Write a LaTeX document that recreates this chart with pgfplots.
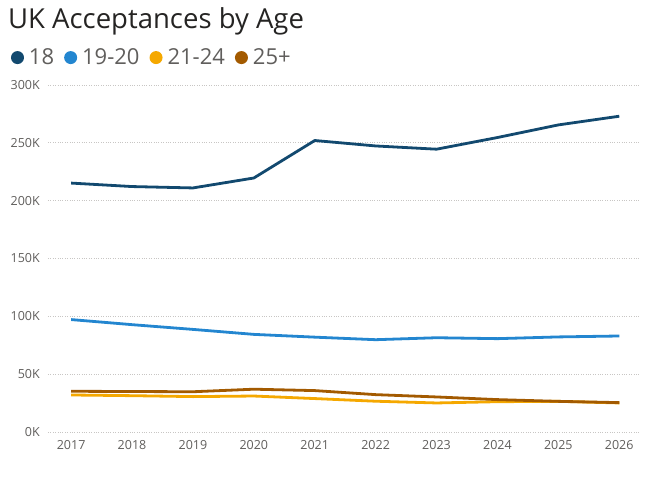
\documentclass[border=0pt]{standalone}
\usepackage{fontspec}
\setmainfont{Open Sans}
\usepackage{pgfplots}
\pgfplotsset{compat=1.18}
\definecolor{cA}{HTML}{12496F}
\definecolor{cB}{HTML}{2386D0}
\definecolor{cC}{HTML}{F5A800}
\definecolor{cD}{HTML}{A35A00}
\definecolor{lbl}{HTML}{605E5C}
\definecolor{grd}{HTML}{C8C6C4}
\definecolor{ttl}{HTML}{252423}
\begin{document}
\begin{tikzpicture}[x=1pt,y=1pt]
\useasboundingbox (0,0) rectangle (663,476);
\node[anchor=base west, inner sep=0pt, text=ttl, font=\fontsize{27.5}{32}\selectfont] at (8,447) {UK Acceptances by Age};
\begin{axis}[
  at={(48pt,44pt)}, anchor=south west, scale only axis,
  width=592pt, height=347pt,
  xmin=2016.62, xmax=2026.34, ymin=0, ymax=300,
  axis line style={draw=none},
  major tick length=0pt,
  xtick={2017,...,2026}, ytick={0,50,...,300},
  /pgf/number format/assume math mode=true,
  /pgf/number format/1000 sep={},
  yticklabel={\pgfmathprintnumber{\tick}K},
  ymajorgrids, grid style={grd, dotted, line width=0.9pt},
  tick label style={font=\fontsize{12.5}{14}\selectfont, text=lbl, inner sep=0pt},
  yticklabel style={anchor=east, xshift=-8pt},
  xticklabel style={anchor=north, yshift=-8pt},
  legend columns=-1,
  legend style={draw=none, fill=none, inner sep=0pt, outer sep=0pt,
    at={(-0.0625,1.079)}, anchor=west,
    font=\fontsize{22}{26}\selectfont, text=lbl,
    nodes={inner sep=0pt},
    /tikz/every odd column/.append style={column sep=5pt},
    /tikz/every even column/.append style={column sep=10pt}},
  legend image code/.code={\fill[#1, draw=none] (6.5pt,0pt) circle (6.5pt);},
  every axis plot/.append style={line width=2.8pt, line join=round, mark=none},
]
\addplot[cA] coordinates {(2017,215.2)(2018,212.2)(2019,211.0)(2020,219.6)(2021,252.0)(2022,247.3)(2023,244.5)(2024,254.6)(2025,265.5)(2026,273.0)};
\addlegendentry{18}
\addplot[cB] coordinates {(2017,97.2)(2018,92.8)(2019,88.7)(2020,84.4)(2021,82.0)(2022,79.8)(2023,81.5)(2024,80.7)(2025,82.2)(2026,83.0)};
\addlegendentry{19-20}
\addplot[cC] coordinates {(2017,32.0)(2018,31.4)(2019,30.6)(2020,31.1)(2021,28.9)(2022,26.6)(2023,25.1)(2024,26.2)(2025,26.5)(2026,25.1)};
\addlegendentry{21-24}
\addplot[cD] coordinates {(2017,35.2)(2018,35.0)(2019,34.8)(2020,37.0)(2021,35.8)(2022,32.3)(2023,30.3)(2024,28.0)(2025,26.5)(2026,25.4)};
\addlegendentry{25+}
\end{axis}
\end{tikzpicture}
\end{document}
